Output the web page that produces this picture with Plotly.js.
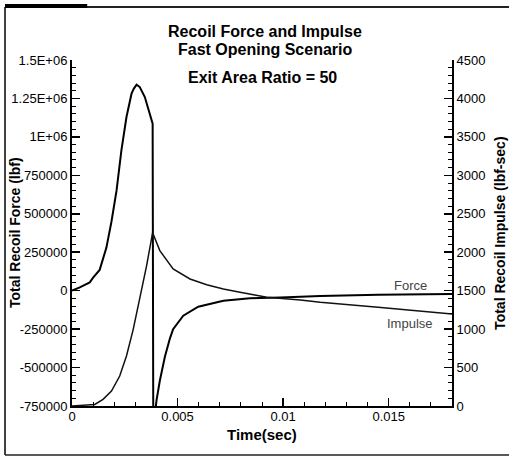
<!DOCTYPE html>
<html>
<head>
<meta charset="utf-8">
<script src="https://cdn.plot.ly/plotly-3.0.1.min.js"></script>
<style>
  html, body { margin: 0; padding: 0; background: #fff; }
  #chart { width: 509px; height: 458px; }
</style>
</head>
<body>
<div id="chart"></div>
<script>
// Total recoil force (lbf) vs time (sec)
const forceTime = [0, 0.00037, 0.00084, 0.0010, 0.00131, 0.00163, 0.00187, 0.00211, 0.00234, 0.00258, 0.00282, 0.00293, 0.00306, 0.00321, 0.00345, 0.00365, 0.00382, 0.00385, 0.0040, 0.00416, 0.0044, 0.00464, 0.00479, 0.00527, 0.00598, 0.00717, 0.00843, 0.00986, 0.01176, 0.0145, 0.018];
const force = [0, 21000, 54000, 85000, 135000, 280000, 450000, 650000, 912000, 1129000, 1281000, 1314000, 1340000, 1324000, 1259000, 1173000, 1086000, -900000, -717000, -586000, -430000, -310000, -250000, -163000, -104000, -65000, -50000, -44000, -35000, -27000, -21500];

// Total recoil impulse (lbf-sec) vs time (sec)
const impulseTime = [0, 0.0005, 0.00108, 0.00147, 0.00187, 0.00226, 0.00258, 0.0029, 0.00321, 0.00353, 0.00382, 0.00416, 0.00479, 0.00559, 0.00638, 0.00717, 0.00796, 0.00923, 0.01082, 0.01176, 0.0145, 0.018];
const impulse = [0, 5, 20, 87, 195, 390, 650, 997, 1387, 1820, 2254, 2021, 1783, 1652, 1578, 1522, 1478, 1413, 1379, 1348, 1285, 1196];

// Tick labels
const forceTickVals = [-750000, -500000, -250000, 0, 250000, 500000, 750000, 1000000, 1250000, 1500000];
const forceTickText = ['-750000', '-500000', '-250000', '0', '250000', '500000', '750000', '1E+06', '1.25E+06', '1.5E+06'];
const impulseTickVals = [0, 500, 1000, 1500, 2000, 2500, 3000, 3500, 4000, 4500];
const impulseTickText = ['0', '500', '1000', '1500', '2000', '2500', '3000', '3500', '4000', '4500'];
const timeTickVals = [0, 0.005, 0.01, 0.015];
const timeTickText = ['0', '0.005', '0.01', '0.015'];

const FONT = 'Liberation Sans, Arial, sans-serif';

const traces = [
  {
    x: forceTime, y: force, type: 'scatter', mode: 'lines', name: 'Force',
    line: { color: '#000', width: 2 }, yaxis: 'y', hoverinfo: 'skip'
  },
  {
    x: impulseTime, y: impulse, type: 'scatter', mode: 'lines', name: 'Impulse',
    line: { color: '#111', width: 1.5 }, yaxis: 'y2', hoverinfo: 'skip'
  }
];

const axisCommon = {
  showgrid: false, zeroline: false, showline: true, linecolor: '#000', linewidth: 2,
  ticks: 'inside', ticklen: 8, tickwidth: 1.5, tickcolor: '#000',
  tickfont: { family: FONT, size: 13, color: '#000' }
};

const layout = {
  width: 509, height: 458,
  margin: { l: 72, r: 57, t: 60, b: 52 },
  paper_bgcolor: '#fff', plot_bgcolor: '#fff',
  showlegend: false,
  font: { family: FONT, color: '#000' },
  xaxis: Object.assign({}, axisCommon, {
    range: [0, 0.018], tickmode: 'array', tickvals: timeTickVals, ticktext: timeTickText,
    ticklabelstandoff: -3,
    minor: { dtick: 0.001, tick0: 0, ticks: 'inside', ticklen: 4, tickcolor: '#000', tickwidth: 1 }
  }),
  yaxis: Object.assign({}, axisCommon, {
    range: [-750000, 1500000], tickmode: 'array', tickvals: forceTickVals, ticktext: forceTickText,
    minor: { dtick: 50000, tick0: 0, ticks: 'inside', ticklen: 4, tickcolor: '#000', tickwidth: 1 }
  }),
  yaxis2: Object.assign({}, axisCommon, {
    range: [0, 4500], overlaying: 'y', side: 'right',
    tickmode: 'array', tickvals: impulseTickVals, ticktext: impulseTickText,
    minor: { dtick: 100, tick0: 0, ticks: 'inside', ticklen: 4, tickcolor: '#000', tickwidth: 1 }
  }),
  annotations: [
    { text: '<b>Recoil Force and Impulse</b>', xref: 'paper', yref: 'paper', x: 0.507, y: 1.081,
      xanchor: 'center', yanchor: 'middle', showarrow: false, font: { family: FONT, size: 16, color: '#000' } },
    { text: '<b>Fast Opening Scenario</b>', xref: 'paper', yref: 'paper', x: 0.507, y: 1.029,
      xanchor: 'center', yanchor: 'middle', showarrow: false, font: { family: FONT, size: 16, color: '#000' } },
    { text: '<b>Exit Area Ratio = 50</b>', xref: 'paper', yref: 'paper', x: 0.5, y: 0.948,
      xanchor: 'center', yanchor: 'middle', showarrow: false, font: { family: FONT, size: 16, color: '#000' } },
    { text: '<b>Time(sec)</b>', xref: 'paper', yref: 'paper', x: 0.5, y: -0.083,
      xanchor: 'center', yanchor: 'middle', showarrow: false, font: { family: FONT, size: 15, color: '#000' } },
    { text: '<b>Total Recoil Force (lbf)</b>', xref: 'paper', yref: 'paper', x: -0.15, y: 0.5,
      xanchor: 'center', yanchor: 'middle', textangle: -90, showarrow: false, font: { family: FONT, size: 14, color: '#000' } },
    { text: '<b>Total Recoil Impulse (lbf-sec)</b>', xref: 'paper', yref: 'paper', x: 1.126, y: 0.5,
      xanchor: 'center', yanchor: 'middle', textangle: -90, showarrow: false, font: { family: FONT, size: 14, color: '#000' } },
    { text: 'Force', xref: 'x', yref: 'y', x: 0.01603, y: 32600,
      xanchor: 'center', yanchor: 'middle', showarrow: false, font: { family: FONT, size: 13, color: '#444' } },
    { text: 'Impulse', xref: 'x', yref: 'y', x: 0.01603, y: -213000,
      xanchor: 'center', yanchor: 'middle', showarrow: false, font: { family: FONT, size: 13, color: '#444' } }
  ],
  shapes: [
    // outer frame (left, top, bottom)
    { type: 'line', xref: 'paper', yref: 'paper', x0: -0.1763, x1: -0.1763, y0: -0.1416, y1: 1.153, line: { color: '#000', width: 1.5 } },
    { type: 'line', xref: 'paper', yref: 'paper', x0: -0.1763, x1: 1.15, y0: 1.153, y1: 1.153, line: { color: '#222', width: 2 } },
    { type: 'line', xref: 'paper', yref: 'paper', x0: -0.1763, x1: 0.04, y0: 1.156, y1: 1.156, line: { color: '#000', width: 4 } },
    { type: 'line', xref: 'paper', yref: 'paper', x0: -0.1763, x1: 1.15, y0: -0.1416, y1: -0.1416, line: { color: '#222', width: 1.5 } }
  ]
};

Plotly.newPlot('chart', traces, layout, { staticPlot: true, displayModeBar: false });
</script>
</body>
</html>
